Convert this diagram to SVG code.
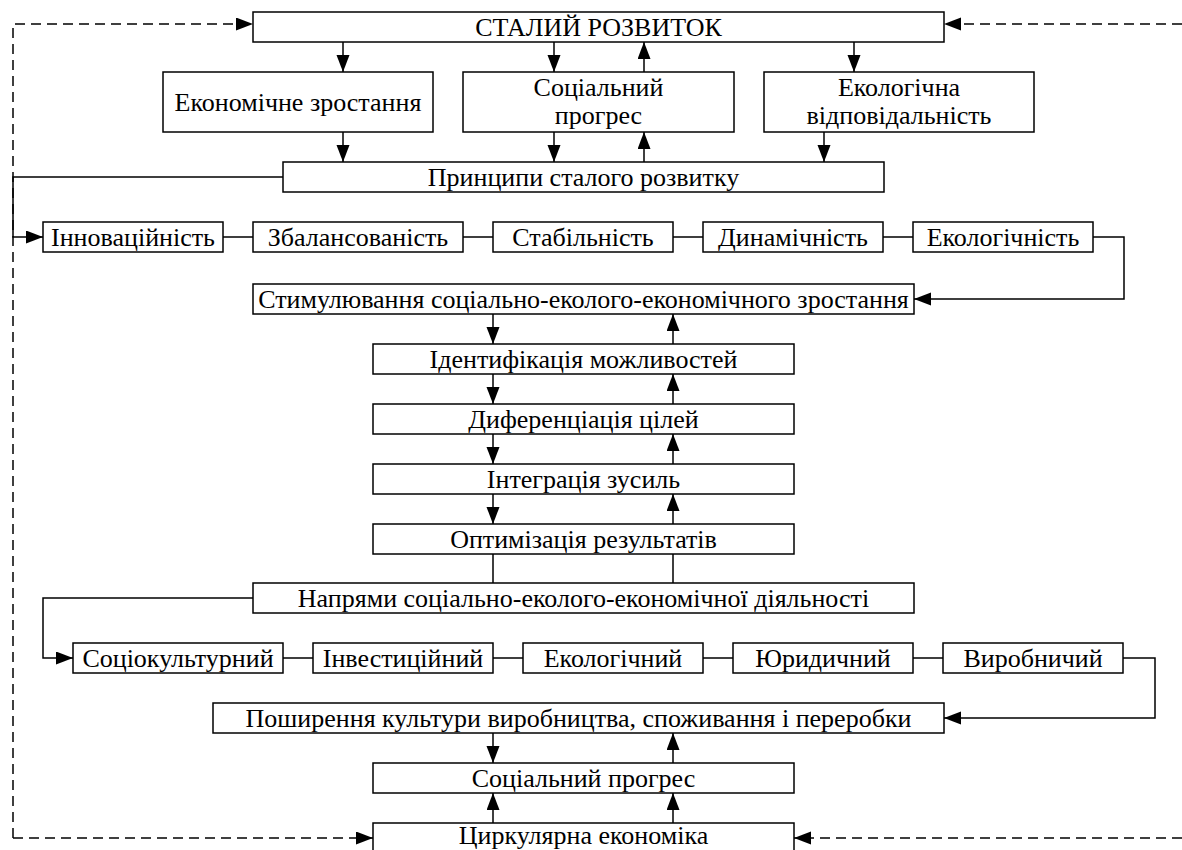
<svg xmlns="http://www.w3.org/2000/svg" width="1182" height="850" viewBox="0 0 1182 850">
<style>
.b{fill:#fff;stroke:#000;stroke-width:1.5}
.t{font-family:"Liberation Serif","Times New Roman",serif;font-size:26px;fill:#000;text-anchor:middle}
.c{fill:none;stroke:#000;stroke-width:1.5}
.d{fill:none;stroke:#000;stroke-width:1.5;stroke-dasharray:10,6}
</style>
<defs>
<marker id="a" markerUnits="userSpaceOnUse" markerWidth="18" markerHeight="14" refX="17" refY="6.5" orient="auto">
<path d="M0,0 L17,6.5 L0,13 z" fill="#000"/>
</marker>
</defs>
<rect width="1182" height="850" fill="#fff"/>
<g id="connectors">
<path class="d" d="M13,838 L13,24 L253,24" marker-end="url(#a)"/>
<path class="d" d="M1182,24 L944,24" marker-end="url(#a)"/>
<path class="d" d="M13,838 L373,838" marker-end="url(#a)"/>
<path class="d" d="M1182,838 L794,838" marker-end="url(#a)"/>
<path class="c" d="M343,42 L343,72" marker-end="url(#a)"/>
<path class="c" d="M554,42 L554,72" marker-end="url(#a)"/>
<path class="c" d="M644,72 L644,42" marker-end="url(#a)"/>
<path class="c" d="M854,42 L854,72" marker-end="url(#a)"/>
<path class="c" d="M343,132 L343,162" marker-end="url(#a)"/>
<path class="c" d="M554,132 L554,162" marker-end="url(#a)"/>
<path class="c" d="M644,162 L644,132" marker-end="url(#a)"/>
<path class="c" d="M824,132 L824,162" marker-end="url(#a)"/>
<path class="c" d="M283,177 L13,177 L13,237 L43,237" marker-end="url(#a)"/>
<path class="c" d="M223,237 L253,237 M463,237 L493,237 M673,237 L703,237 M883,237 L913,237"/>
<path class="c" d="M1093,237 L1124,237 L1124,299 L914,299" marker-end="url(#a)"/>
<path class="c" d="M493,314 L493,344" marker-end="url(#a)"/>
<path class="c" d="M673,344 L673,314" marker-end="url(#a)"/>
<path class="c" d="M493,374 L493,404" marker-end="url(#a)"/>
<path class="c" d="M673,404 L673,374" marker-end="url(#a)"/>
<path class="c" d="M493,434 L493,464" marker-end="url(#a)"/>
<path class="c" d="M673,464 L673,434" marker-end="url(#a)"/>
<path class="c" d="M493,494 L493,524" marker-end="url(#a)"/>
<path class="c" d="M673,524 L673,494" marker-end="url(#a)"/>
<path class="c" d="M493,554 L493,583 M673,554 L673,583"/>
<path class="c" d="M253,598 L43,598 L43,658 L73,658" marker-end="url(#a)"/>
<path class="c" d="M283,658 L313,658 M493,658 L523,658 M703,658 L733,658 M913,658 L943,658"/>
<path class="c" d="M1123,658 L1155,658 L1155,718 L944,718" marker-end="url(#a)"/>
<path class="c" d="M493,733 L493,763" marker-end="url(#a)"/>
<path class="c" d="M673,763 L673,733" marker-end="url(#a)"/>
<path class="c" d="M493,823 L493,793" marker-end="url(#a)"/>
<path class="c" d="M673,823 L673,793" marker-end="url(#a)"/>
</g>
<g id="n1"><rect class="b" x="253" y="12" width="691" height="30"/><text class="t" x="598.5" y="35.5">СТАЛИЙ РОЗВИТОК</text></g>
<g id="n2"><rect class="b" x="163" y="72" width="270" height="60"/><text class="t" x="298" y="111">Економічне зростання</text></g>
<g id="n3"><rect class="b" x="463" y="72" width="271" height="60"/><text class="t" x="598.5" y="96">Соціальний</text><text class="t" x="598.5" y="124">прогрес</text></g>
<g id="n4"><rect class="b" x="764" y="72" width="270" height="60"/><text class="t" x="899" y="96">Екологічна</text><text class="t" x="899" y="124">відповідальність</text></g>
<g id="n5"><rect class="b" x="283" y="162" width="601" height="30"/><text class="t" x="583.5" y="185.5">Принципи сталого розвитку</text></g>
<g id="n6"><rect class="b" x="43" y="222" width="180" height="30"/><text class="t" x="133" y="245.5">Інноваційність</text></g>
<g id="n7"><rect class="b" x="253" y="222" width="210" height="30"/><text class="t" x="358" y="245.5">Збалансованість</text></g>
<g id="n8"><rect class="b" x="493" y="222" width="180" height="30"/><text class="t" x="583" y="245.5">Стабільність</text></g>
<g id="n9"><rect class="b" x="703" y="222" width="180" height="30"/><text class="t" x="793" y="245.5">Динамічність</text></g>
<g id="n10"><rect class="b" x="913" y="222" width="180" height="30"/><text class="t" x="1003" y="245.5">Екологічність</text></g>
<g id="n11"><rect class="b" x="253" y="284" width="661" height="30"/><text class="t" x="583.5" y="307.5">Стимулювання соціально-еколого-економічного зростання</text></g>
<g id="n12"><rect class="b" x="373" y="344" width="421" height="30"/><text class="t" x="583.5" y="367.5">Ідентифікація можливостей</text></g>
<g id="n13"><rect class="b" x="373" y="404" width="421" height="30"/><text class="t" x="583.5" y="427.5">Диференціація цілей</text></g>
<g id="n14"><rect class="b" x="373" y="464" width="421" height="30"/><text class="t" x="583.5" y="487.5">Інтеграція зусиль</text></g>
<g id="n15"><rect class="b" x="373" y="524" width="421" height="30"/><text class="t" x="583.5" y="547.5">Оптимізація результатів</text></g>
<g id="n16"><rect class="b" x="253" y="583" width="661" height="30"/><text class="t" x="583.5" y="606.5">Напрями соціально-еколого-економічної діяльності</text></g>
<g id="n17"><rect class="b" x="73" y="643" width="210" height="30"/><text class="t" x="178" y="666.5">Соціокультурний</text></g>
<g id="n18"><rect class="b" x="313" y="643" width="180" height="30"/><text class="t" x="403" y="666.5">Інвестиційний</text></g>
<g id="n19"><rect class="b" x="523" y="643" width="180" height="30"/><text class="t" x="613" y="666.5">Екологічний</text></g>
<g id="n20"><rect class="b" x="733" y="643" width="180" height="30"/><text class="t" x="823" y="666.5">Юридичний</text></g>
<g id="n21"><rect class="b" x="943" y="643" width="180" height="30"/><text class="t" x="1033" y="666.5">Виробничий</text></g>
<g id="n22"><rect class="b" x="213" y="703" width="731" height="30"/><text class="t" x="578.5" y="726.5">Поширення культури виробництва, споживання і переробки</text></g>
<g id="n23"><rect class="b" x="373" y="763" width="421" height="30"/><text class="t" x="583.5" y="786.5">Соціальний прогрес</text></g>
<g id="n24"><rect class="b" x="373" y="823" width="421" height="30"/><text class="t" x="583.5" y="843.5">Циркулярна економіка</text></g>
</svg>
